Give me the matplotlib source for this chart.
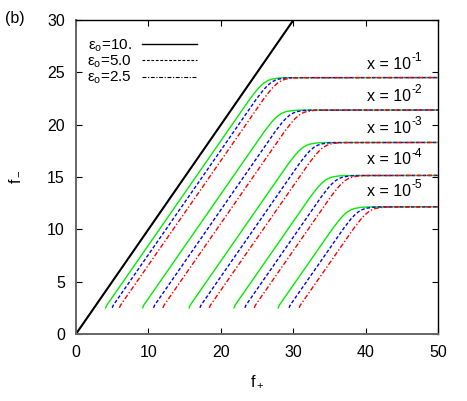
import matplotlib
matplotlib.use("Agg")
import matplotlib.pyplot as plt
from matplotlib.lines import Line2D

plt.rcParams["font.family"] = ["Liberation Sans", "DejaVu Sans"]
plt.rcParams["mathtext.fontset"] = "custom"
plt.rcParams["mathtext.rm"] = "Liberation Sans"
plt.rcParams["mathtext.it"] = "Liberation Sans"

# diagonal f- = f+
diag_fp = [0, 30]
diag_fm = [0, 30]

# f- values shared by the three curves of each x group (10^-1 ... 10^-5)
fm_groups = [
    [2.5, 2.75, 22.46, 23.35, 23.72, 24.02, 24.22, 24.35, 24.46, 24.49, 24.5],
    [2.5, 2.75, 19.36, 20.25, 20.62, 20.92, 21.12, 21.25, 21.36, 21.39, 21.4],
    [2.5, 2.75, 16.26, 17.15, 17.52, 17.82, 18.02, 18.15, 18.26, 18.29, 18.3],
    [2.5, 2.75, 13.11, 14.0, 14.37, 14.67, 14.87, 15.0, 15.11, 15.14, 15.15],
    [2.5, 2.75, 10.11, 11.0, 11.37, 11.67, 11.87, 12.0, 12.11, 12.14, 12.15],
]

# f+ for eps_o = 10 (green)
green_fp = [
    [4.1, 4.25, 24.0, 25.0, 25.5, 26.0, 26.5, 27.0, 28.0, 29.0, 50],
    [9.2, 9.35, 26.0, 27.0, 27.5, 28.0, 28.5, 29.0, 30.0, 31.0, 50],
    [15.6, 15.75, 29.3, 30.3, 30.8, 31.3, 31.8, 32.3, 33.3, 34.3, 50],
    [21.8, 21.95, 32.35, 33.35, 33.85, 34.35, 34.85, 35.35, 36.35, 37.35, 50],
    [27.9, 28.05, 35.45, 36.45, 36.95, 37.45, 37.95, 38.45, 39.45, 40.45, 50],
]
# f+ for eps_o = 5.0 (blue)
blue_fp = [
    [5.0, 5.15, 24.9, 25.9, 26.4, 26.9, 27.4, 27.9, 28.9, 29.9, 50],
    [10.7, 10.85, 27.5, 28.5, 29.0, 29.5, 30.0, 30.5, 31.5, 32.5, 50],
    [17.1, 17.25, 30.8, 31.8, 32.3, 32.8, 33.3, 33.8, 34.8, 35.8, 50],
    [23.3, 23.45, 33.85, 34.85, 35.35, 35.85, 36.35, 36.85, 37.85, 38.85, 50],
    [29.4, 29.55, 36.95, 37.95, 38.45, 38.95, 39.45, 39.95, 40.95, 41.95, 50],
]
# f+ for eps_o = 2.5 (red)
red_fp = [
    [6.0, 6.15, 25.9, 26.9, 27.4, 27.9, 28.4, 28.9, 29.9, 30.9, 50],
    [12.0, 12.15, 28.8, 29.8, 30.3, 30.8, 31.3, 31.8, 32.8, 33.8, 50],
    [18.4, 18.55, 32.1, 33.1, 33.6, 34.1, 34.6, 35.1, 36.1, 37.1, 50],
    [24.6, 24.75, 35.15, 36.15, 36.65, 37.15, 37.65, 38.15, 39.15, 40.15, 50],
    [30.8, 30.95, 38.35, 39.35, 39.85, 40.35, 40.85, 41.35, 42.35, 43.35, 50],
]

x_exponents = ["-1", "-2", "-3", "-4", "-5"]
x_label_y = [25.3, 22.3, 19.2, 16.2, 13.2]
x_label_x = 40.1

legend_labels = ["=10.", "=5.0", "=2.5"]

FS = 11.5

fig = plt.figure(figsize=(4.67, 4.01), dpi=100)
ax = fig.add_axes([0.1627, 0.1671, 0.776, 0.783])

ax.plot(diag_fp, diag_fm, color="black", lw=1.5)

for i in range(len(fm_groups)):
    ax.plot(green_fp[i], fm_groups[i], color="#00ee00", lw=1.0)
    ax.plot(blue_fp[i], fm_groups[i], color="#0000ff", lw=1.0, linestyle=(0, (2.5, 1.5)))
    ax.plot(red_fp[i], fm_groups[i], color="#ff0000", lw=1.0, linestyle=(0, (3.5, 1.5, 1, 1.5)))
    t = ax.text(x_label_x, x_label_y[i], "x = 10", fontsize=FS, ha="left", va="baseline")
    ax.annotate(x_exponents[i], xy=(1.0, 0.72), xycoords=t, xytext=(0.5, 0),
                textcoords="offset points", fontsize=FS * 0.75, ha="left", va="baseline")

ax.set_xlim(0, 50)
ax.set_ylim(0, 30)
ax.set_xticks([0, 10, 20, 30, 40, 50])
ax.set_yticks([0, 5, 10, 15, 20, 25, 30])
ax.tick_params(direction="in", top=True, right=True, length=4, width=0.8,
               labelsize=FS, pad=8)
for side in ["top", "right"]:
    ax.spines[side].set_color("black")
    ax.spines[side].set_linewidth(1.0)
for side in ["left", "bottom"]:
    ax.spines[side].set_color("#666666")
    ax.spines[side].set_linewidth(1.4)

ax.set_xlabel(r"$\mathregular{f_+}$", fontsize=FS)
ax.xaxis.set_label_coords(0.5, -0.125)
ax.set_ylabel(r"$\mathregular{f_-}$", fontsize=FS)
ax.yaxis.set_label_coords(-0.15, 0.5)

handles = [
    Line2D([], [], color="black", lw=1.0),
    Line2D([], [], color="black", lw=0.8, linestyle=(0, (2.5, 1.5))),
    Line2D([], [], color="black", lw=0.8, linestyle=(0, (3.5, 1.5, 1, 1.5))),
]
labels = [r"$\mathregular{ε_o}$" + s for s in legend_labels]
ax.legend(handles, labels, loc="upper left", bbox_to_anchor=(0.03, 0.945),
          frameon=False, fontsize=11, markerfirst=False, handlelength=3.6,
          handletextpad=0.7, labelspacing=0.0, borderpad=0, borderaxespad=0)

fig.text(0.032, 0.955, "(b)", fontsize=FS, ha="center", va="center")

fig.savefig("out.png", dpi=100)
